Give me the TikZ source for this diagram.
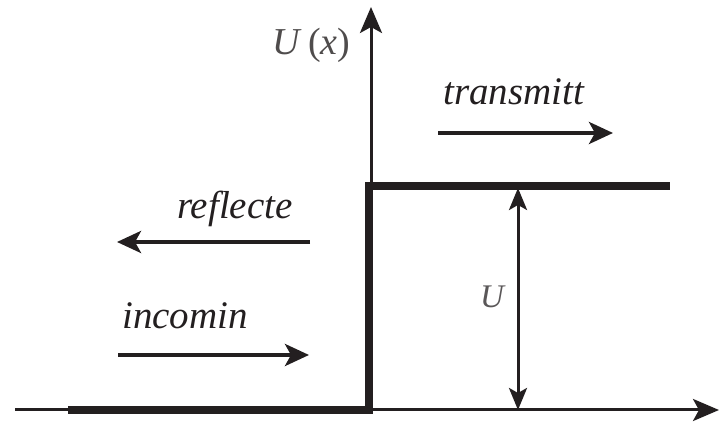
\documentclass[tikz,border=0pt]{standalone}
\usepackage{fontspec}
\setmainfont{Liberation Serif}
\usetikzlibrary{arrows.meta}
\definecolor{ink}{HTML}{231F20}
\tikzset{
  axisline/.style={draw=ink, line width=3pt, -{Stealth[length=26pt,width=22pt,inset=6pt]}},
  waveline/.style={draw=ink, line width=4pt, -{Stealth[length=24pt,width=22pt,inset=6pt]}},
  dblline/.style={draw=ink, line width=3pt, {Stealth[length=22pt,width=18pt,inset=5pt]}-{Stealth[length=22pt,width=18pt,inset=5pt]}},
  potline/.style={draw=ink, line width=8pt, line cap=butt, line join=miter},
  lbl/.style={inner sep=0pt, anchor=base west, text=ink, font=\fontsize{39}{39}\selectfont\itshape},
}
\begin{document}
\begin{tikzpicture}[x=1pt,y=1pt]
\useasboundingbox (0,0) rectangle (720,427);
% axes
\coordinate (xs) at (15,17);
\coordinate (xe) at (719,17);
\coordinate (ys) at (371,17);
\coordinate (ye) at (371,420);
\draw[axisline] (xs) -- (xe);
\draw[axisline] (ys) -- (ye);
% potential step
\coordinate (p0) at (68,17);
\coordinate (p1) at (369,17);
\coordinate (p2) at (369,241);
\coordinate (p3) at (670,241);
\draw[potline] (p0) -- (p1) -- (p2) -- (p3);
% labels
\node[inner sep=0pt, anchor=base west, text=ink!80, font=\fontsize{38}{38}\selectfont] (ux) at (272,372) {\textit{U}\,(\textit{x})};
\node[lbl] (tr) at (443,322) {transmitt};
\node[lbl] (rf) at (177,208) {reflecte};
\node[lbl] (in) at (122,98) {incomin};
\node[inner sep=0pt, anchor=base west, text=ink!75, font=\fontsize{33}{33}\selectfont\itshape] (u) at (480,119) {U};
% wave arrows
\coordinate (t1) at (438,294);
\coordinate (t2) at (613,294);
\coordinate (r1) at (310,185);
\coordinate (r2) at (117,185);
\coordinate (i1) at (118,72);
\coordinate (i2) at (309,72);
\draw[waveline] (t1) -- (t2);
\draw[waveline] (r1) -- (r2);
\draw[waveline] (i1) -- (i2);
% height arrow
\coordinate (h1) at (518,17);
\coordinate (h2) at (518,239);
\draw[dblline] (h1) -- (h2);
\end{tikzpicture}
\end{document}
